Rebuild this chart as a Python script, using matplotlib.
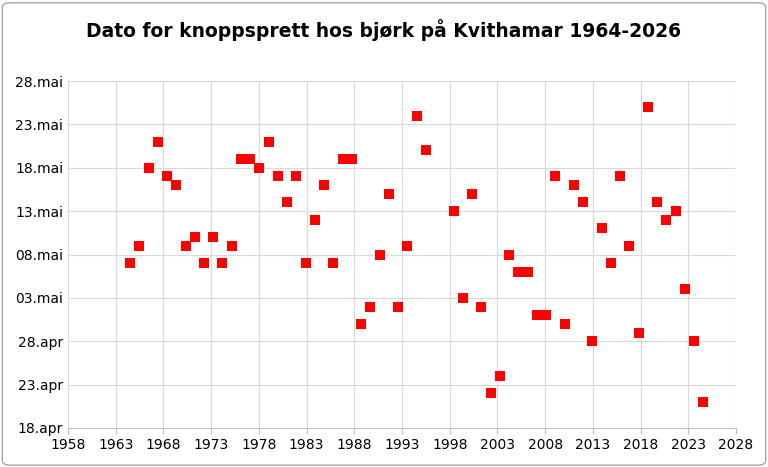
import matplotlib
matplotlib.use("Agg")
import matplotlib.pyplot as plt
import numpy as np

years = [1964,1965,1966,1967,1968,1969,1970,1971,1972,1973,1974,1975,1976,1977,1978,1979,1980,1981,1982,1983,1984,1985,1986,1987,1988,1989,1990,1991,1992,1993,1994,1995,1996,1999,2000,2001,2002,2003,2004,2005,2006,2007,2008,2009,2010,2011,2012,2013,2014,2015,2016,2017,2018,2019,2020,2021,2022,2023,2024,2025,2026]
# day number counted from 1 April (31 = 1 May)
days = [37,39,48,51,47,46,39,40,37,40,37,39,49,49,48,51,47,44,47,37,42,46,37,49,49,30,32,38,45,32,39,54,50,43,33,45,32,22,24,38,36,36,31,31,47,30,46,44,28,41,37,47,39,29,55,44,42,43,34,28,21]
ytick_vals = [18,23,28,33,38,43,48,53,58]
ytick_labels = ["18.apr","23.apr","28.apr","03.mai","08.mai","13.mai","18.mai","23.mai","28.mai"]
xticks = list(range(1958, 2029, 5))

# horizontal placement as in the reference's axis
xpos = 1964.5 + (np.array(years) - 1964) * 0.969

fig = plt.figure(figsize=(7.68,4.67), dpi=100)
ax = fig.add_axes([68/768, 1-428/467, (736-68)/768, (428-81)/467])
ax.scatter(xpos, days, marker='s', s=55, color='#ff0000', zorder=3, linewidths=0)
ax.set_xlim(1958, 2028)
ax.set_ylim(18, 58)
ax.set_xticks(xticks)
ax.set_yticks(ytick_vals)
ax.set_yticklabels(ytick_labels)
ax.grid(True, color='#d9d9d9', linewidth=0.8)
ax.set_axisbelow(True)
for s in ax.spines.values():
    s.set_visible(False)
ax.spines['bottom'].set_visible(True)
ax.spines['bottom'].set_color('#bfbfbf')
ax.tick_params(length=0, labelsize=10, colors='#000000')
ax.tick_params(axis='x', length=4, color='#bfbfbf')
fig.text(0.5, 1-30/467, "Dato for knoppsprett hos bjørk på Kvithamar 1964-2026", ha='center', va='center', fontsize=13.5, fontweight='bold')
fig.patches.append(matplotlib.patches.FancyBboxPatch((0.003,0.004),0.994,0.99, boxstyle="round,pad=0,rounding_size=0.01", transform=fig.transFigure, fill=False, edgecolor='#a6a6a6', linewidth=1))
fig.savefig("out.png", dpi=100)
